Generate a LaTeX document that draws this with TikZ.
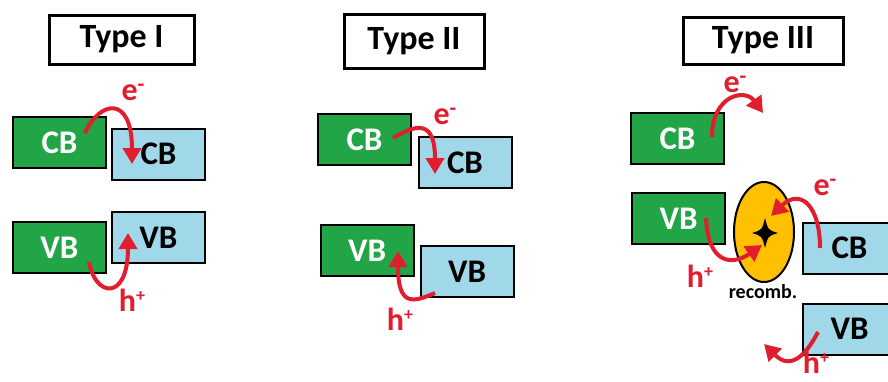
\documentclass[tikz,border=0pt]{standalone}
\usepackage{fontspec}
\setmainfont{Carlito}
\usetikzlibrary{arrows.meta,shapes.geometric}
\definecolor{bgreen}{RGB}{33,165,70}
\definecolor{bblue}{RGB}{160,216,234}
\definecolor{bred}{RGB}{225,30,45}
\definecolor{bgold}{RGB}{255,192,0}
\tikzset{
  titlebox/.style={draw=black, line width=3pt, inner sep=0pt, font=\bfseries\fontsize{34}{34}\selectfont},
  band/.style={draw=black, line width=2pt, minimum width=93pt, minimum height=51pt, inner sep=0pt, font=\bfseries\fontsize{33}{33}\selectfont},
  gband/.style={band, fill=bgreen, text=white},
  bband/.style={band, fill=bblue, text=black},
  carrier/.style={draw=bred, line width=4pt, -{Triangle[width=18pt,length=16pt]}},
  lbl/.style={text=bred, inner sep=0pt, font=\bfseries\fontsize{32}{32}\selectfont},
}
\newcommand{\elec}{e\raisebox{9pt}{\fontsize{22}{22}\selectfont -}}
\newcommand{\hole}{h\raisebox{10pt}{\fontsize{18}{18}\selectfont +}}
\begin{document}
\begin{tikzpicture}[x=1pt,y=-1pt]
\useasboundingbox (0,0) rectangle (888,381);
\clip (0,0) rectangle (888,381);
% titles
\node[titlebox, minimum width=145pt, minimum height=49pt] (t1) at (121.5,39.5) {Type I};
\node[titlebox, minimum width=140pt, minimum height=54pt] (t2) at (414,41) {Type II};
\node[titlebox, minimum width=160pt, minimum height=47pt] (t3) at (763,40.5) {Type III};
% Type I
\node[gband] (gCB1) at (59.5,142.5) {CB};
\node[bband] (bCB1) at (158.5,154) {\raisebox{-3pt}{CB}};
\node[gband] (gVB1) at (59.5,247.5) {VB};
\node[bband] (bVB1) at (158.5,237.5) {VB};
\coordinate (s1) at (85,133);
\coordinate (e1) at (132,164);
\coordinate (s2) at (89,262);
\coordinate (e2) at (128,233);
\draw[carrier] (s1) .. controls (100,100) and (132,95) .. (e1);
\draw[carrier] (s2) .. controls (95,297) and (128,302) .. (e2);
\node[lbl] (le1) at (133,92) {\elec};
\node[lbl] (lh1) at (132,300) {\hole};
% Type II
\node[gband] (gCB2) at (364.5,139.5) {CB};
\node[bband] (bCB2) at (465,162.5) {CB};
\node[gband] (gVB2) at (367,250.5) {VB};
\node[bband] (bVB2) at (467,271.5) {VB};
\coordinate (s3) at (393,138);
\coordinate (e3) at (435,174);
\coordinate (s4) at (435,293);
\coordinate (e4) at (398,251);
\draw[carrier] (s3) .. controls (415,125) and (435,118) .. (e3);
\draw[carrier] (s4) .. controls (412,303) and (398,306) .. (e4);
\node[lbl] (le2) at (445,116) {\elec};
\node[lbl] (lh2) at (400,319) {\hole};
% Type III
\node[gband] (gCB3) at (677.5,138.5) {CB};
\node[gband] (gVB3) at (678.5,218.5) {VB};
\node[bband] (bCB3) at (849.5,248) {CB};
\node[bband] (bVB3) at (849.5,329) {VB};
\node[ellipse, draw=black, line width=2pt, fill=bgold, minimum width=60pt, minimum height=100pt] (rec) at (764,232) {};
\fill[black] (765,218) .. controls (768,230) .. (778,233) .. controls (768,236) .. (765,248) .. controls (762,236) .. (752,233) .. controls (762,230) .. cycle;
\node[inner sep=0pt, font=\bfseries\fontsize{20}{20}\selectfont] (lrec) at (763,292) {recomb.};
\coordinate (s5) at (712,137);
\coordinate (e5) at (763,113);
\coordinate (s6) at (820,248);
\coordinate (e6) at (771,216);
\coordinate (s7) at (706,218);
\coordinate (e7) at (762,245);
\coordinate (s8) at (818,332);
\coordinate (e8) at (764,344);
\draw[carrier] (s5) .. controls (712,95) and (745,88) .. (e5);
\draw[carrier] (s6) .. controls (820,205) and (800,188) .. (e6);
\draw[carrier] (s7) .. controls (708,264) and (732,266) .. (e7);
\draw[carrier] (s8) .. controls (805,357) and (790,370) .. (e8);
\node[lbl] (le3) at (735,84) {\elec};
\node[lbl] (le4) at (825,187) {\elec};
\node[lbl] (lh3) at (700,276) {\hole};
\node[lbl] (lh4) at (816,362) {\hole};
\end{tikzpicture}
\end{document}
